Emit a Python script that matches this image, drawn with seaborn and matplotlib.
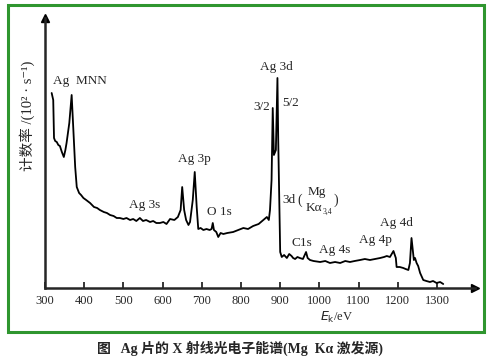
import numpy as np
import pandas as pd
import matplotlib
matplotlib.use("Agg")
import matplotlib.pyplot as plt
from matplotlib.patches import Rectangle
import seaborn as sns

# spectrum (kinetic energy in eV, counts in arbitrary units)
energy = [317, 321, 323, 326, 330, 334, 338, 343, 348, 352, 355, 362, 368, 372, 377, 381,
          387, 392, 398, 405, 415, 425, 433, 440, 450, 458, 466, 475, 483, 491, 500, 508,
          517, 525, 533, 542, 550, 558, 568, 576, 584, 593, 602, 610, 619, 630, 639, 646,
          650, 655, 660, 666, 670, 677, 682, 687, 691, 697, 704, 712, 720, 725, 728, 731,
          737, 742, 748, 755, 765, 780, 793, 806, 818, 831, 845, 857, 866, 871, 874, 878,
          881, 884, 889, 893, 895, 897, 900, 904, 910, 917, 923, 929, 933, 938, 944, 950,
          958, 966, 970, 976, 985, 1002, 1015, 1027, 1040, 1053, 1066, 1078, 1090, 1104,
          1116, 1129, 1142, 1155, 1165, 1172, 1180, 1189, 1195, 1197, 1205, 1214, 1220,
          1227, 1231, 1235, 1241, 1244, 1248, 1252, 1257, 1265, 1273, 1282, 1290, 1299,
          1308, 1316]
counts = [195, 188, 150, 147, 146, 143, 142, 136, 131, 138, 145, 165, 193, 161, 121, 101,
          95, 93, 90, 88, 85, 81, 80, 78, 76, 75, 73, 72, 70, 70, 69, 70,
          68, 69, 67, 70, 67, 68, 66, 67, 65, 65, 66, 64, 69, 68, 71, 78,
          101, 78, 68, 63, 66, 88, 116, 81, 59, 60, 58, 59, 58, 59, 65, 58,
          56, 51, 55, 54, 55, 56, 58, 60, 59, 62, 64, 68, 71, 68, 78, 108,
          180, 133, 138, 210, 148, 105, 36, 31, 33, 30, 34, 32, 30, 29, 31, 30,
          29, 36, 30, 28, 27, 26, 27, 25, 26, 25, 27, 26, 27, 28,
          29, 28, 29, 30, 31, 32, 31, 37, 30, 21, 21, 20, 19,
          18, 25, 50, 28, 30, 25, 22, 15, 8, 7, 6, 7, 5,
          6, 4]

tick_values = [300, 400, 500, 600, 700, 800, 900, 1000, 1100, 1200, 1300]

# peak labels: text, energy, height
peak_labels = [
    ("Ag  MNN", 388, 207),
    ("Ag 3s", 554, 83),
    ("Ag 3p", 682, 129),
    ("O 1s", 745, 76),
    ("Ag 3d", 889, 221),
    ("3/2", 852, 181),
    ("5/2", 926, 185),
    ("C1s", 955, 45),
    ("Ag 4s", 1039, 38),
    ("Ag 4p", 1142, 48),
    ("Ag 4d", 1197, 65),
]

df = pd.DataFrame({"E": energy, "I": counts})

sns.set_style("ticks")
plt.rcParams["font.family"] = ["Liberation Serif", "Noto Sans CJK SC", "DejaVu Sans"]

fig = plt.figure(figsize=(4.9, 3.61), dpi=100)
W, H = 490, 361
# green frame round the figure
fig.patches.append(Rectangle((8 / W, 1 - 332 / H), 476 / W, 327 / H, transform=fig.transFigure,
                             fill=False, edgecolor="#2f962f", linewidth=2.2))

ax = fig.add_axes([45 / W, 1 - 288 / H, 430 / W, 270 / H])
sns.lineplot(data=df, x="E", y="I", ax=ax, color="black", linewidth=1.3, sort=False)

ax.set_xlim(300, 1397)
ax.set_ylim(0, 270)
ax.set_xticks(tick_values)
ax.set_xticklabels([str(t) for t in tick_values], fontsize=9)
ax.set_yticks([])
ax.tick_params(axis="x", direction="in", length=4, width=1.3, pad=5)
for s in ["top", "right"]:
    ax.spines[s].set_visible(False)
for s in ["left", "bottom"]:
    ax.spines[s].set_linewidth(1.8)
ax.set_xlabel("")
ax.set_ylabel("")
ax.set_facecolor("white")

# arrow heads on the axes
ax.plot(1, 0, marker=">", color="black", markersize=6, transform=ax.transAxes, clip_on=False)
ax.plot(0, 1, marker="^", color="black", markersize=6, transform=ax.transAxes, clip_on=False)

for txt, x, y in peak_labels:
    ax.text(x, y, txt, fontsize=9.5, ha="center", va="center")

# satellite label 3d (Mg Ka3,4)
ax.text(922, 88, "3d", fontsize=9.5, ha="center", va="center")
ax.text(950, 88, "(", fontsize=10, ha="center", va="center")
ax.text(993, 96, "Mg", fontsize=9.5, ha="center", va="center")
ax.text(986, 80, "Kα", fontsize=9.5, ha="center", va="center")
ax.text(1020, 76, "3,4", fontsize=5.5, ha="center", va="center")
ax.text(1042, 88, ")", fontsize=10, ha="center", va="center")

fig.text(337 / W, 1 - 317 / H, r"$E_{\rm k}$/eV", fontsize=9, ha="center", va="center")
fig.text(27 / W, 1 - 116 / H, "计数率 /(10² · s⁻¹)", fontsize=10.5, rotation=90,
         ha="center", va="center")
fig.text(240 / W, 1 - 348 / H, "图   Ag 片的 X 射线光电子能谱(Mg  Kα 激发源)", fontsize=10,
         fontweight="bold", ha="center", va="center")

fig.savefig("out.png", dpi=100)
